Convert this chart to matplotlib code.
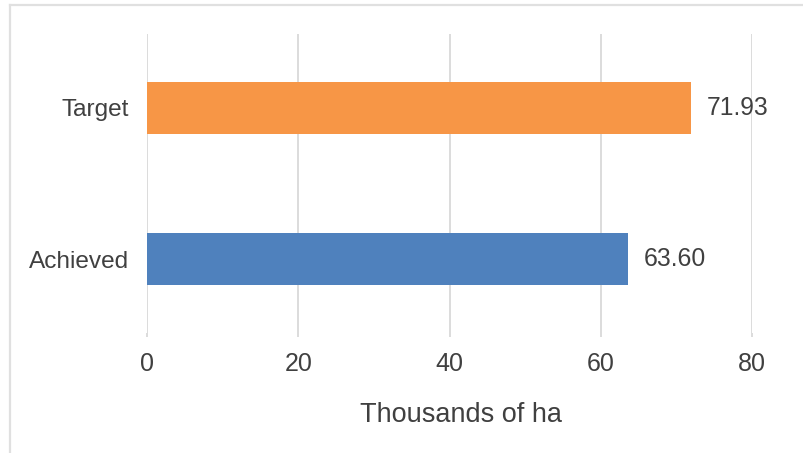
import matplotlib
matplotlib.use("Agg")
import matplotlib.pyplot as plt
from matplotlib.lines import Line2D

categories = ["Achieved", "Target"]
values = [63.60, 71.93]
bar_colors = ["#4F81BD", "#F79646"]
x_ticks = [0, 20, 40, 60, 80]
x_label = "Thousands of ha"

plt.rcParams["font.family"] = ["Liberation Sans", "DejaVu Sans"]
text_color = "#404040"
grid_color = "#d9d9d9"

fig = plt.figure(figsize=(8.04, 4.53), dpi=100)
ax = fig.add_axes([147 / 804, 1 - 333 / 453, (752 - 147) / 804, (333 - 34) / 453])

ypos = list(range(len(categories)))
ax.barh(ypos, values, height=0.344, color=bar_colors, zorder=3)

for y, v in zip(ypos, values):
    ax.annotate(f"{v:.2f}", xy=(v, y), xytext=(11.5, 0), textcoords="offset points",
                ha="left", va="center", fontsize=17.8, color=text_color)

ax.set_xlim(0, 80)
ax.set_ylim(-0.49, 1.49)
ax.set_xticks(x_ticks)
ax.set_xticklabels([str(t) for t in x_ticks])
ax.set_yticks(ypos)
ax.set_yticklabels(categories)

ax.grid(axis="x", color=grid_color, linewidth=1.3, zorder=0)
for s in ax.spines.values():
    s.set_visible(False)

ax.tick_params(axis="x", length=3, width=1.3, color=grid_color, pad=10.5,
               labelsize=18, labelcolor=text_color)
ax.tick_params(axis="y", length=0, pad=13, labelsize=17.6, labelcolor=text_color)
ax.set_xlabel(x_label, fontsize=19.5, color=text_color, labelpad=19, x=0.519)

# outer frame (left and top edges)
border = "#e0e0e0"
fig.add_artist(Line2D([10.5 / 804, 10.5 / 804], [0, 1 - 4.5 / 453], transform=fig.transFigure,
                      color=border, linewidth=1.6))
fig.add_artist(Line2D([10.5 / 804, 1], [1 - 4.5 / 453, 1 - 4.5 / 453], transform=fig.transFigure,
                      color=border, linewidth=1.6))

fig.savefig("out.png", dpi=100)
